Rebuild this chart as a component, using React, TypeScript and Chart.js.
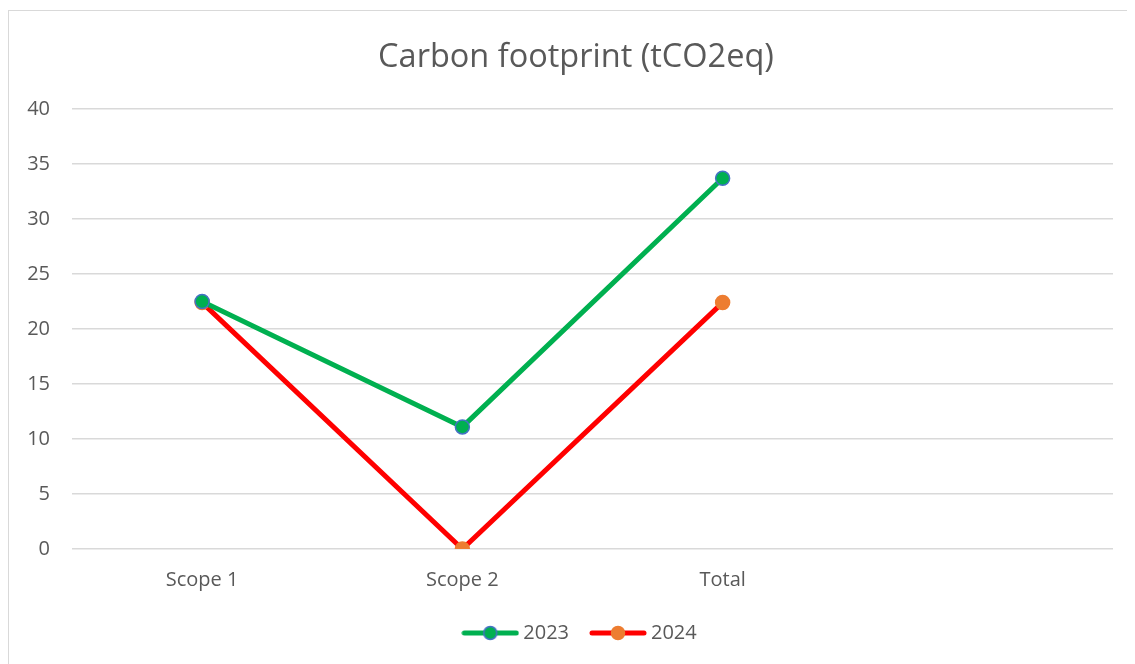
import React, { useEffect, useRef } from "react";
import { Chart, registerables } from "chart.js";

Chart.register(...registerables);

const categories = ["Scope 1", "Scope 2", "Total", ""];
const series2023 = [22.5, 11.1, 33.7, null];
const series2024 = [22.4, 0, 22.4, null];
const yTicks = [0, 5, 10, 15, 20, 25, 30, 35, 40];

const FONT = "'Open Sans', sans-serif";
const TEXT = "#595959";

function legendIcon(line: string, fill: string, border: string) {
  const c = document.createElement("canvas");
  c.width = 58;
  c.height = 18;
  const ctx = c.getContext("2d")!;
  ctx.strokeStyle = line;
  ctx.lineWidth = 5;
  ctx.lineCap = "round";
  ctx.beginPath();
  ctx.moveTo(3, 9);
  ctx.lineTo(55, 9);
  ctx.stroke();
  ctx.beginPath();
  ctx.arc(29, 9, 6.5, 0, Math.PI * 2);
  ctx.fillStyle = fill;
  ctx.fill();
  ctx.lineWidth = 1.5;
  ctx.strokeStyle = border;
  ctx.stroke();
  return c;
}

const legendShift = {
  id: "legendShift",
  afterLayout(chart: any) {
    if (chart.legend) {
      chart.legend.left += 6;
      chart.legend.right += 6;
    }
  },
};

export default function App() {
  const ref = useRef<HTMLCanvasElement>(null);
  useEffect(() => {
    const icons = [
      legendIcon("#00B050", "#00B050", "#4472C4"),
      legendIcon("#FF0000", "#ED7D31", "#ED7D31"),
    ];
    const chart = new Chart(ref.current!, {
      type: "line",
      plugins: [legendShift],
      data: {
        labels: categories,
        datasets: [
          {
            label: "2023",
            data: series2023,
            borderColor: "#00B050",
            borderWidth: 5,
            pointRadius: 7,
            pointBackgroundColor: "#00B050",
            pointBorderColor: "#4472C4",
            pointBorderWidth: 1.5,
            pointStyle: "circle",
            yAxisID: "y",
          },
          {
            label: "2024",
            data: series2024,
            borderColor: "#FF0000",
            borderWidth: 5,
            pointRadius: 7,
            pointBackgroundColor: "#ED7D31",
            pointBorderColor: "#ED7D31",
            pointBorderWidth: 1.5,
            pointStyle: "circle",
            yAxisID: "y",
          },
        ],
      },
      options: {
        animation: false,
        responsive: false,
        layout: { padding: { left: 0, right: 0, top: 0, bottom: 11 } },
        plugins: {
          tooltip: { enabled: false },
          title: {
            display: true,
            text: "Carbon footprint (tCO2eq)",
            color: TEXT,
            font: { family: FONT, size: 32.5, weight: "normal", lineHeight: 1.2 },
            padding: { top: 27, bottom: 32 },
          },
          legend: {
            position: "bottom",
            labels: {
              color: TEXT,
              font: { family: FONT, size: 20 },
              usePointStyle: true,
              pointStyleWidth: 46,
              padding: 26,
              generateLabels: (ch: any) =>
                ch.data.datasets.map((ds: any, i: number) => ({
                  text: ds.label,
                  pointStyle: icons[i],
                  fillStyle: "transparent",
                  strokeStyle: "transparent",
                  lineWidth: 0,
                  fontColor: TEXT,
                  datasetIndex: i,
                  hidden: false,
                })),
            },
          },
        },
        scales: {
          x: {
            type: "category",
            offset: true,
            grid: { display: false, drawTicks: false },
            border: { display: false },
            ticks: {
              color: TEXT,
              font: { family: FONT, size: 20 },
              padding: 19,
              maxRotation: 0,
              autoSkip: false,
            },
            afterFit: (s: any) => {
              s.height = 48;
            },
          },
          y: {
            min: 0,
            max: 40,
            afterBuildTicks: (s: any) => {
              s.ticks = yTicks.map((v) => ({ value: v }));
            },
            grid: { color: "#D9D9D9", lineWidth: 1.5, drawTicks: false },
            border: { display: false },
            ticks: {
              color: TEXT,
              font: { family: FONT, size: 20 },
              padding: 22,
            },
            afterFit: (s: any) => {
              s.width = 63;
            },
          },
          yRight: {
            type: "linear",
            position: "right",
            display: true,
            grid: { display: false, drawTicks: false },
            border: { display: false },
            ticks: { display: false },
            afterFit: (s: any) => {
              s.width = 30;
            },
          },
        },
      },
    });
    return () => chart.destroy();
  }, []);
  return (
    <div
      style={{
        marginTop: 2,
        width: 1127,
        height: 654,
        borderLeft: "1px solid #D9D9D9",
        borderTop: "1px solid #D9D9D9",
        boxSizing: "border-box",
        overflow: "hidden",
      }}
    >
      <canvas ref={ref} width={1134} height={653} style={{ display: "block" }} />
    </div>
  );
}
